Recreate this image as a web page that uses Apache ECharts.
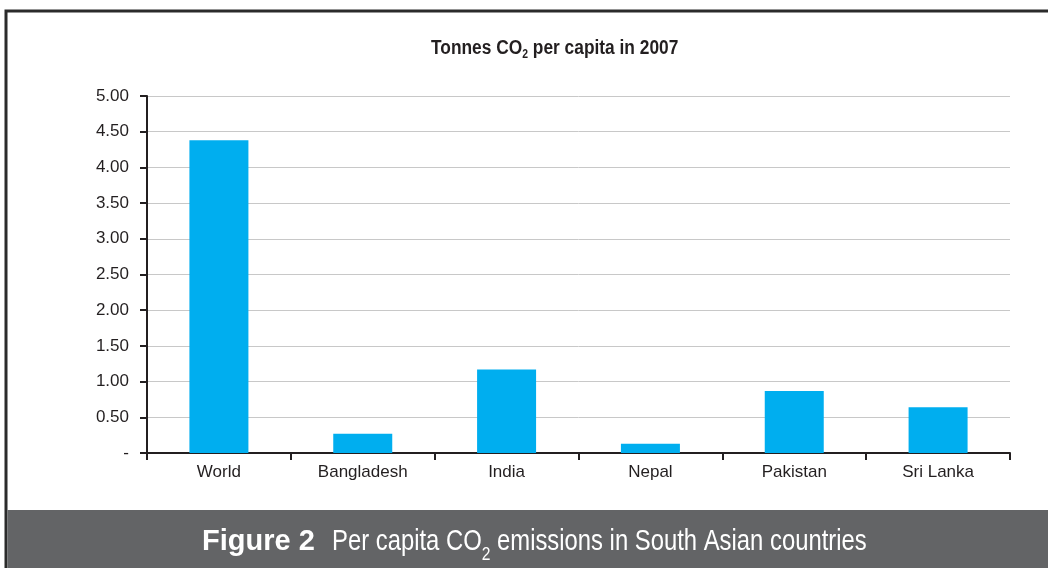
<!DOCTYPE html>
<html>
<head>
<meta charset="utf-8">
<script src="https://cdn.jsdelivr.net/npm/echarts@6/dist/echarts.min.js"></script>
<style>
  html, body { margin: 0; padding: 0; background: #ffffff; }
  #chart { width: 1048px; height: 568px; }
</style>
</head>
<body>
<div id="chart"></div>
<script>
// Per capita CO2 emissions, tonnes, 2007
var countries = ['World', 'Bangladesh', 'India', 'Nepal', 'Pakistan', 'Sri Lanka'];
var emissions = [4.38, 0.27, 1.17, 0.13, 0.87, 0.64];
var yTicks = { min: 0, max: 5, step: 0.5 };

var SANS = '"Liberation Sans", Arial, Helvetica, sans-serif';
var INK = '#231f20';

var chart = echarts.init(document.getElementById('chart'), null, { renderer: 'canvas' });

chart.setOption({
  animation: false,
  backgroundColor: '#ffffff',
  grid: { left: 147, right: 38, top: 96, bottom: 115 },
  xAxis: {
    type: 'category',
    data: countries,
    axisLine: { lineStyle: { color: INK, width: 2 } },
    axisTick: { show: true, length: 7, lineStyle: { color: INK, width: 2 } },
    axisLabel: { fontFamily: SANS, fontSize: 17, color: INK, margin: 11 },
    splitLine: { show: false }
  },
  yAxis: {
    type: 'value',
    min: yTicks.min,
    max: yTicks.max,
    interval: yTicks.step,
    axisLine: { show: true, lineStyle: { color: INK, width: 2 } },
    axisTick: { show: true, length: 7, lineStyle: { color: INK, width: 2 } },
    axisLabel: {
      fontFamily: SANS,
      fontSize: 17,
      color: INK,
      margin: 18,
      formatter: function (v) { return v === 0 ? '-' : v.toFixed(2); }
    },
    splitLine: { show: true, lineStyle: { color: '#c8c8c8', width: 1 } }
  },
  series: [{
    type: 'bar',
    data: emissions,
    barWidth: 59,
    itemStyle: { color: '#00aeef' }
  }],
  graphic: [
    // outer frame
    {
      type: 'rect',
      z: -10,
      shape: { x: 6, y: 11, width: 1100, height: 600 },
      style: { fill: 'none', stroke: '#2b2b2b', lineWidth: 3 }
    },
    // chart title, condensed bold
    {
      type: 'text',
      z: 5,
      x: 431,
      y: 36,
      scaleX: 0.867,
      style: {
        text: '{t|Tonnes CO}{s|2}{t| per capita in 2007}',
        verticalAlign: 'top',
        rich: {
          t: { fontFamily: SANS, fontWeight: 'bold', fontSize: 20, fill: INK, lineHeight: 22, verticalAlign: 'bottom' },
          s: { fontFamily: SANS, fontWeight: 'bold', fontSize: 12, fill: INK, lineHeight: 22, verticalAlign: 'bottom', padding: [0, 0, -3, 0] }
        }
      }
    },
    // caption band
    {
      type: 'rect',
      z: 10,
      shape: { x: 7.5, y: 510, width: 1041, height: 58 },
      style: { fill: '#636466' }
    },
    {
      type: 'text',
      z: 11,
      x: 202,
      y: 522,
      style: {
        text: '{b|Figure 2}',
        verticalAlign: 'top',
        rich: {
          b: { fontFamily: SANS, fontWeight: 'bold', fontSize: 29, fill: '#ffffff', lineHeight: 34, verticalAlign: 'bottom' }
        }
      }
    },
    {
      type: 'text',
      z: 11,
      x: 332,
      y: 522,
      scaleX: 0.822,
      style: {
        text: '{r|Per capita CO}{s|2}{r| emissions in South Asian countries}',
        verticalAlign: 'top',
        rich: {
          r: { fontFamily: SANS, fontSize: 29, fill: '#ffffff', lineHeight: 34, verticalAlign: 'bottom' },
          s: { fontFamily: SANS, fontSize: 19, fill: '#ffffff', lineHeight: 34, verticalAlign: 'bottom', padding: [0, 0, -8, 0] }
        }
      }
    }
  ]
});
</script>
</body>
</html>
